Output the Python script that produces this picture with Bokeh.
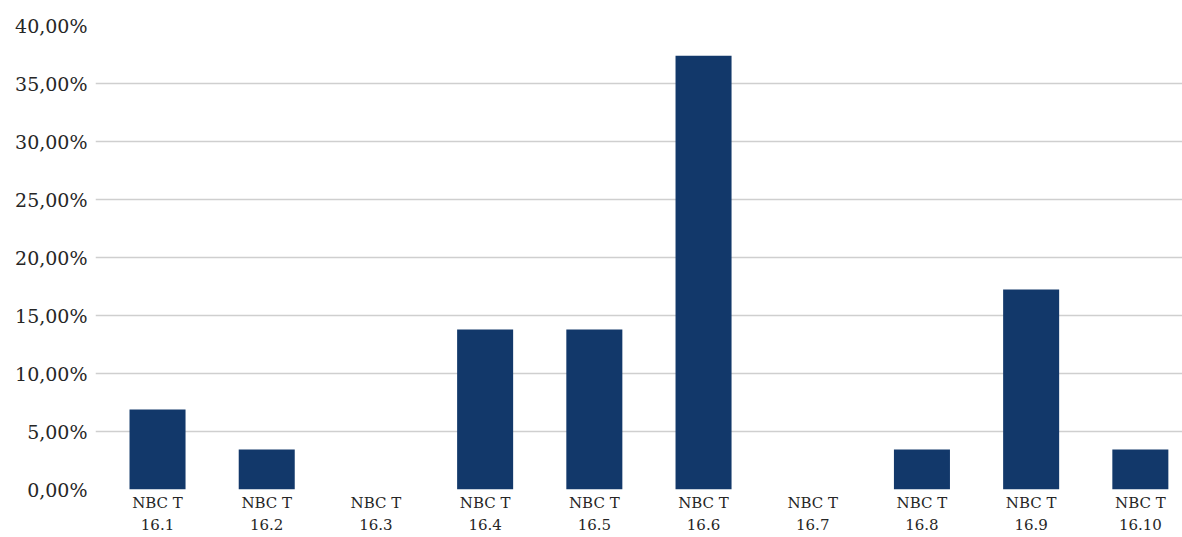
from bokeh.plotting import figure
from bokeh.models import Range1d, FixedTicker, ColumnDataSource
from bokeh.embed import file_html
from bokeh.resources import INLINE

categories = ["NBC T\n16.1", "NBC T\n16.2", "NBC T\n16.3", "NBC T\n16.4", "NBC T\n16.5",
              "NBC T\n16.6", "NBC T\n16.7", "NBC T\n16.8", "NBC T\n16.9", "NBC T\n16.10"]
values = [6.90, 3.45, 0.0, 13.79, 13.79, 37.40, 0.0, 3.45, 17.24, 3.45]
y_ticks = [0, 5, 10, 15, 20, 25, 30, 35, 40]
y_tick_labels = ["0,00%", "5,00%", "10,00%", "15,00%", "20,00%", "25,00%", "30,00%", "35,00%", "40,00%"]

positions = [i + 0.5 for i in range(len(categories))]
src = ColumnDataSource(dict(x=positions, top=values))

p = figure(width=1182, height=537, output_backend="svg", toolbar_location=None,
           x_range=Range1d(-0.068, 9.886), y_range=Range1d(0, 40))
p.min_border_left = 95
p.min_border_right = 0
p.min_border_top = 25
p.min_border_bottom = 47
p.outline_line_color = None
p.background_fill_color = "white"
p.border_fill_color = "white"

p.vbar(x="x", top="top", width=0.513, bottom=0, source=src,
       fill_color="#12386a", line_color=None)

p.xgrid.visible = False
p.ygrid.grid_line_color = "#cfcfcf"
p.ygrid.grid_line_width = 1.5

p.yaxis.ticker = FixedTicker(ticks=y_ticks)
p.yaxis.major_label_overrides = {t: l for t, l in zip(y_ticks, y_tick_labels)}
p.xaxis.ticker = FixedTicker(ticks=positions)
p.xaxis.major_label_overrides = {x: c for x, c in zip(positions, categories)}

for ax in (p.xaxis[0], p.yaxis[0]):
    ax.axis_line_color = None
    ax.major_tick_line_color = None
    ax.minor_tick_line_color = None
    ax.major_tick_out = 0
    ax.major_tick_in = 0
    ax.major_label_text_font = "DejaVu Serif"
    ax.major_label_text_color = "#262626"

p.yaxis.major_label_text_font_size = "19px"
p.yaxis.major_label_standoff = 8
p.xaxis.major_label_text_font_size = "15px"
p.xaxis.major_label_text_line_height = 1.25
p.xaxis.major_label_standoff = 4

open("out.html", "w").write(file_html(p, INLINE))
